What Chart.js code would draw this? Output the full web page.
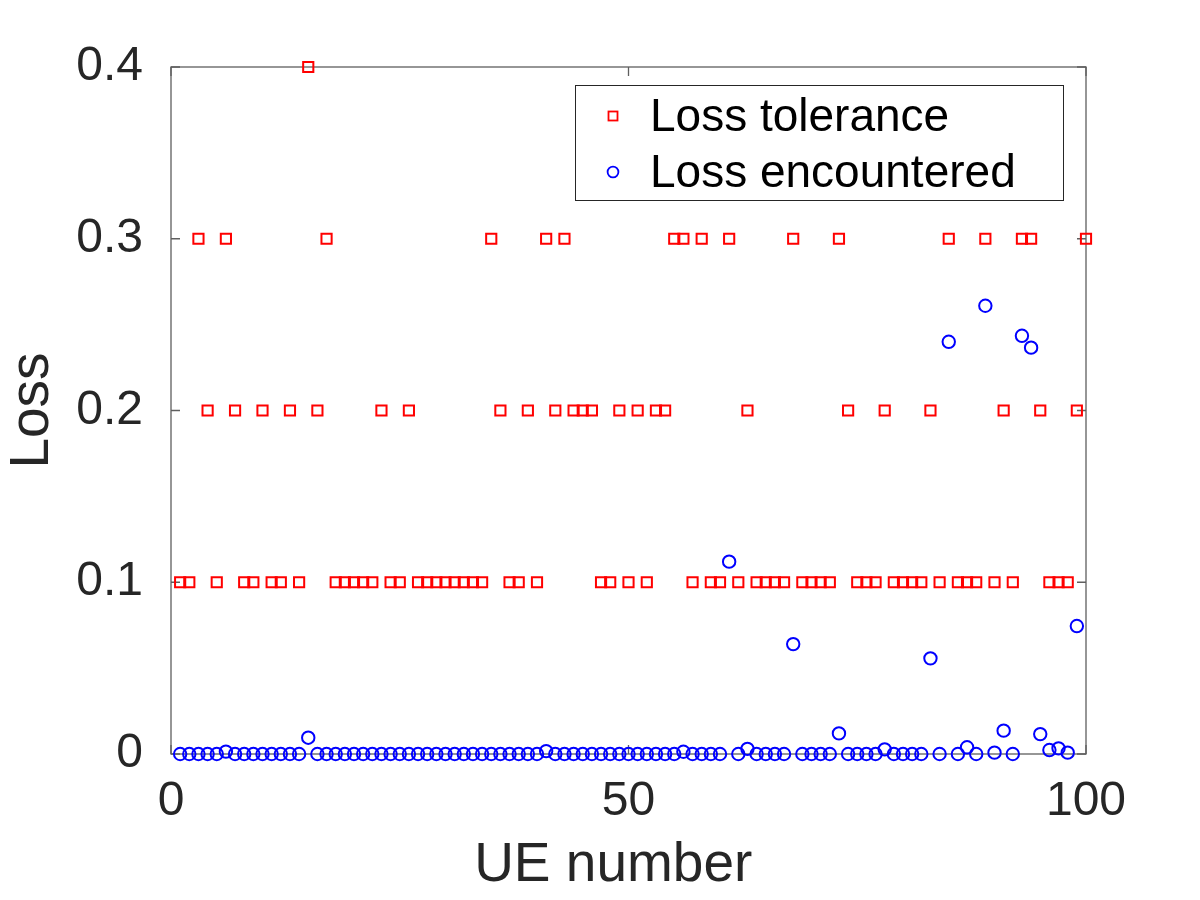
<!DOCTYPE html>
<html>
<head>
<meta charset="utf-8">
<script src="https://cdn.jsdelivr.net/npm/chart.js@4/dist/chart.umd.min.js"></script>
<style>
  html, body { margin: 0; padding: 0; background: #ffffff; }
  #wrap { width: 1200px; height: 900px; }
</style>
</head>
<body>
<div id="wrap"><canvas id="c" width="1200" height="900"></canvas></div>
<script>
// ---- data ----
const ueNumbers = Array.from({length: 100}, (_, i) => i + 1);

const lossTolerance = [
  0.1, 0.1, 0.3, 0.2, 0.1, 0.3, 0.2, 0.1, 0.1, 0.2,
  0.1, 0.1, 0.2, 0.1, 0.4, 0.2, 0.3, 0.1, 0.1, 0.1,
  0.1, 0.1, 0.2, 0.1, 0.1, 0.2, 0.1, 0.1, 0.1, 0.1,
  0.1, 0.1, 0.1, 0.1, 0.3, 0.2, 0.1, 0.1, 0.2, 0.1,
  0.3, 0.2, 0.3, 0.2, 0.2, 0.2, 0.1, 0.1, 0.2, 0.1,
  0.2, 0.1, 0.2, 0.2, 0.3, 0.3, 0.1, 0.3, 0.1, 0.1,
  0.3, 0.1, 0.2, 0.1, 0.1, 0.1, 0.1, 0.3, 0.1, 0.1,
  0.1, 0.1, 0.3, 0.2, 0.1, 0.1, 0.1, 0.2, 0.1, 0.1,
  0.1, 0.1, 0.2, 0.1, 0.3, 0.1, 0.1, 0.1, 0.3, 0.1,
  0.2, 0.1, 0.3, 0.3, 0.2, 0.1, 0.1, 0.1, 0.2, 0.3
];

const lossEncountered = [
  0, 0, 0, 0, 0, 0.0014, 0, 0, 0, 0,
  0, 0, 0, 0, 0.0095, 0, 0, 0, 0, 0,
  0, 0, 0, 0, 0, 0, 0, 0, 0, 0,
  0, 0, 0, 0, 0, 0, 0, 0, 0, 0,
  0.0017, 0, 0, 0, 0, 0, 0, 0, 0, 0,
  0, 0, 0, 0, 0, 0.0013, 0, 0, 0, 0,
  0.112, 0, 0.003, 0, 0, 0, 0, 0.064, 0, 0,
  0, 0, 0.012, 0, 0, 0, 0, 0.0027, 0, 0,
  0, 0, 0.0557, 0, 0.240, 0, 0.0039, 0, 0.261, 0.0008,
  0.0136, 0, 0.2435, 0.2366, 0.0116, 0.0023, 0.0033, 0.0008, 0.0745, null
];

const xTicks = [0, 50, 100];
const yTicks = [0, 0.1, 0.2, 0.3, 0.4];
const seriesNames = ['Loss tolerance', 'Loss encountered'];
const xTitle = 'UE number';
const yTitle = 'Loss';

// ---- styling ----
const FONT = '"Liberation Sans", Arial, Helvetica, sans-serif';
const TXT = '#262626';
const AX = '#5f5f5f';
const RED = '#ff0000';
const BLUE = '#0000ff';

const tolPts = ueNumbers.map((x, i) => ({x, y: lossTolerance[i]}));
const encPts = ueNumbers.map((x, i) => ({x, y: lossEncountered[i]}));

// box + inward ticks, legend box
const framePlugin = {
  id: 'frame',
  beforeDatasetsDraw(chart) {
    const {ctx, chartArea: a, scales: {x, y}} = chart;
    ctx.save();
    ctx.strokeStyle = AX;
    ctx.lineWidth = 1.3;
    ctx.strokeRect(a.left, a.top, a.right - a.left, a.bottom - a.top);
    const tl = 9;
    ctx.beginPath();
    yTicks.forEach(v => {
      const py = y.getPixelForValue(v);
      ctx.moveTo(a.left, py); ctx.lineTo(a.left + tl, py);
      ctx.moveTo(a.right, py); ctx.lineTo(a.right - tl, py);
    });
    xTicks.forEach(v => {
      const px = x.getPixelForValue(v);
      ctx.moveTo(px, a.bottom); ctx.lineTo(px, a.bottom - tl);
      ctx.moveTo(px, a.top); ctx.lineTo(px, a.top + tl);
    });
    ctx.stroke();
    ctx.restore();
  },
  afterDraw(chart) {
    const {ctx} = chart;
    const bx = 575, by = 85, bw = 488, bh = 115;
    ctx.save();
    ctx.fillStyle = '#ffffff';
    ctx.fillRect(bx, by, bw, bh);
    ctx.strokeStyle = TXT;
    ctx.lineWidth = 1;
    ctx.strokeRect(bx + 0.5, by + 0.5, bw, bh);
    const rows = [116, 172];
    const mx = 613;
    ctx.lineWidth = 1.8;
    ctx.strokeStyle = RED;
    ctx.strokeRect(mx - 4.5, rows[0] - 4.5, 9, 9);
    ctx.strokeStyle = BLUE;
    ctx.beginPath();
    ctx.arc(mx, rows[1], 5.4, 0, Math.PI * 2);
    ctx.stroke();
    ctx.fillStyle = '#000000';
    ctx.font = '46px ' + FONT;
    ctx.textAlign = 'left';
    ctx.textBaseline = 'middle';
    ctx.fillText(seriesNames[0], 650, rows[0] + 2);
    ctx.fillText(seriesNames[1], 650, rows[1] + 2);
    ctx.restore();
  }
};

new Chart(document.getElementById('c'), {
  type: 'scatter',
  data: {
    datasets: [
      {
        label: seriesNames[0],
        data: tolPts,
        pointStyle: 'rect',
        pointRadius: 7.2,
        pointHoverRadius: 7.2,
        borderColor: RED,
        backgroundColor: 'rgba(0,0,0,0)',
        pointBorderWidth: 2,
        clip: false,
        order: 2
      },
      {
        label: seriesNames[1],
        data: encPts,
        pointStyle: 'circle',
        pointRadius: 6.2,
        pointHoverRadius: 6.2,
        borderColor: BLUE,
        backgroundColor: 'rgba(0,0,0,0)',
        pointBorderWidth: 2,
        clip: false,
        order: 1
      }
    ]
  },
  options: {
    responsive: false,
    animation: false,
    events: [],
    layout: { padding: { top: 67, right: 114, bottom: 0, left: 0 } },
    plugins: {
      legend: { display: false },
      title: { display: false },
      tooltip: { enabled: false }
    },
    scales: {
      x: {
        type: 'linear',
        min: 0, max: 100,
        afterFit(s) { s.height = 146; },
        afterBuildTicks(s) { s.ticks = xTicks.map(v => ({value: v})); },
        grid: { display: false, drawTicks: false },
        border: { display: false },
        ticks: {
          color: TXT,
          font: { family: FONT, size: 48 },
          padding: 19,
          maxRotation: 0,
          callback: v => String(v)
        },
        title: {
          display: true,
          text: xTitle + '  ',
          color: TXT,
          font: { family: FONT, size: 55 },
          padding: { top: 0, bottom: 1 }
        }
      },
      y: {
        type: 'linear',
        min: 0, max: 0.4,
        afterFit(s) { s.width = 171; },
        afterBuildTicks(s) { s.ticks = yTicks.map(v => ({value: v})); },
        grid: { display: false, drawTicks: false },
        border: { display: false },
        ticks: {
          color: TXT,
          font: { family: FONT, size: 48 },
          padding: 28,
          callback: v => String(Math.round(v * 10) / 10)
        },
        title: {
          display: true,
          text: yTitle,
          color: TXT,
          font: { family: FONT, size: 55 },
          padding: { top: 0, bottom: 0 }
        }
      }
    }
  },
  plugins: [framePlugin]
});
</script>
</body>
</html>
